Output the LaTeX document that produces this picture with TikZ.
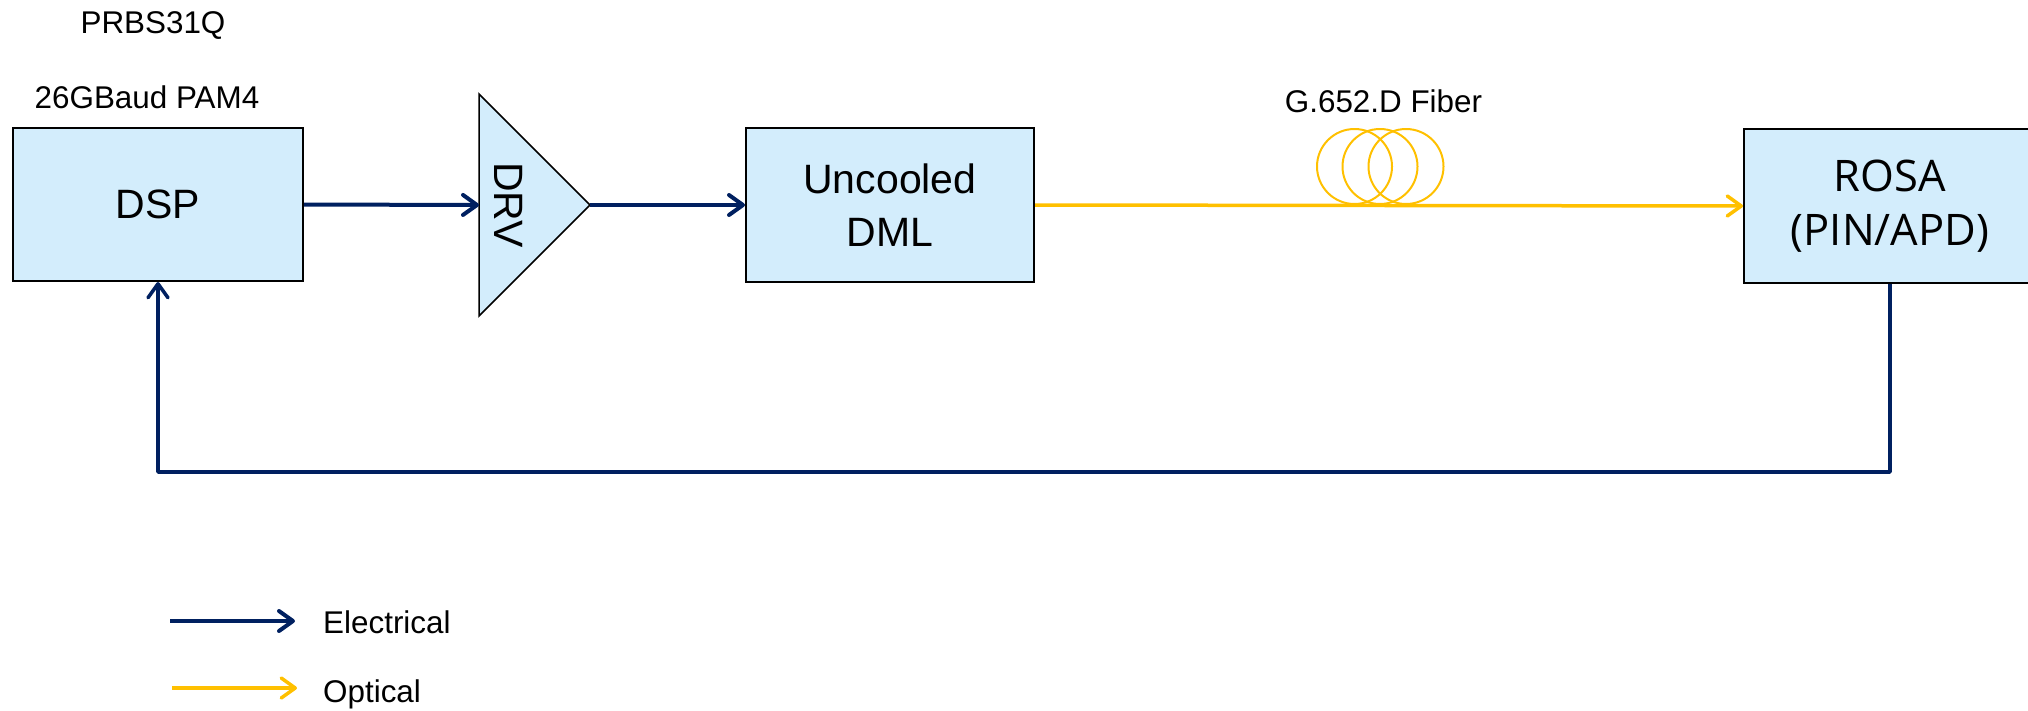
\documentclass[tikz,border=0pt]{standalone}
\usepackage{fontspec}
\setmainfont{Liberation Sans}
\newfontfamily\rosafont{Open Sans}
\usetikzlibrary{arrows.meta}
\definecolor{elecblue}{HTML}{002060}
\definecolor{optyellow}{HTML}{FFC000}
\definecolor{boxfill}{HTML}{D3EDFC}
\tikzset{
  blk/.style={draw=black, line width=2pt, fill=boxfill, inner sep=0pt, align=center,
    font={\fontsize{41}{53}\selectfont}},
  barb/.tip={Straight Barb[length=14pt,width=20pt,line cap=round,line join=round]},
  earrow/.style={draw=elecblue, line width=4pt, -barb},
  oarrow/.style={draw=optyellow, line width=3.5pt, -barb},
  coil/.style={draw=optyellow, line width=2pt},
  lbl/.style={inner sep=0pt, font={\fontsize{31.4}{36}\selectfont}},
}
\begin{document}
\begin{tikzpicture}[x=1pt,y=-1pt]
\useasboundingbox (0,0) rectangle (2028,710);
\clip (0,0) rectangle (2028,710);
% blocks
\node[blk, minimum width=290pt, minimum height=153pt] (dsp) at (158,204.5) {DSP};
\node[blk, minimum width=288pt, minimum height=154pt] (dml) at (890,205) {Uncooled\\DML};
\node[blk, minimum width=292pt, minimum height=154pt,
  font={\rosafont\fontsize{43.5}{54}\selectfont}] (rosa) at (1890,206) {ROSA\\(PIN/APD)};
% driver triangle
\draw[black, line width=1.5pt, fill=boxfill, line join=miter]
  (479,94) coordinate (drvtop) -- (590,205) coordinate (drvout) -- (479,316) coordinate (drvbot) -- cycle;
\coordinate (drvin) at (479,205);
\node[rotate=-90, inner sep=0pt, font={\fontsize{41}{48}\selectfont}] (drv) at (509,205) {DRV};
% labels
\node[lbl, anchor=base] (prbs) at (153,33) {PRBS31Q};
\node[lbl, anchor=base] (baud) at (147,108) {26GBaud PAM4};
\node[lbl, anchor=base] (fiberlbl) at (1383.5,112) {G.652.D Fiber};
% fiber coils
\foreach \cx in {1354.5,1380,1406}
  \draw[coil] (\cx,166.5) circle (37.5pt);
% connectors
\draw[earrow] (dsp.east) -- (drvin);
\draw[earrow] (drvout) -- (dml.west);
\draw[oarrow] (dml.east) -- (rosa.west);
\coordinate (fb) at (1000,472);
\draw[earrow, line width=3.5pt, line join=round] (rosa.south) |- (fb) -| (dsp.south);
% legend
\coordinate (le1) at (170,621);
\coordinate (le2) at (295,621);
\coordinate (lo1) at (172,688);
\coordinate (lo2) at (297,688);
\draw[earrow] (le1) -- (le2);
\draw[oarrow] (lo1) -- (lo2);
\node[lbl, anchor=base west] (elbl) at (323,633) {Electrical};
\node[lbl, anchor=base west] (olbl) at (323,702) {Optical};
\end{tikzpicture}
\end{document}
